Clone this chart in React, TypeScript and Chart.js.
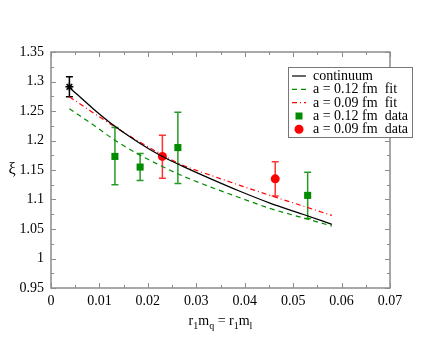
import React, { useEffect, useRef } from "react";
import { Chart, registerables } from "chart.js";

Chart.register(...registerables);

// Curves
const contX = [0.0038, 0.0087, 0.0132, 0.018, 0.0225, 0.027, 0.033, 0.039, 0.0452, 0.052, 0.058];
const contY = [1.29, 1.254, 1.224, 1.197, 1.175, 1.157, 1.135, 1.114, 1.094, 1.075, 1.058];
const fit12X = [0.0038, 0.0087, 0.0132, 0.0184, 0.0225, 0.0266, 0.033, 0.039, 0.0452, 0.052, 0.058];
const fit12Y = [1.254, 1.2265, 1.2005, 1.175, 1.158, 1.142, 1.121, 1.103, 1.085, 1.069, 1.055];
const fit09X = [0.0038, 0.0087, 0.0132, 0.018, 0.0225, 0.027, 0.033, 0.039, 0.0452, 0.052, 0.058];
const fit09Y = [1.274, 1.247, 1.223, 1.199, 1.178, 1.159, 1.141, 1.124, 1.107, 1.089, 1.073];

// Data points
const contPtX = [0.0038];
const contPtY = [1.291];
const contPtLo = [1.274];
const contPtHi = [1.308];
const d12X = [0.0132, 0.0184, 0.0262, 0.053];
const d12Y = [1.173, 1.155, 1.188, 1.107];
const d12Lo = [1.125, 1.132, 1.127, 1.068];
const d12Hi = [1.222, 1.178, 1.248, 1.146];
const d09X = [0.023, 0.0463];
const d09Y = [1.173, 1.135];
const d09Lo = [1.136, 1.106];
const d09Hi = [1.209, 1.164];

const legendLabels = [
  "continuum",
  "a = 0.12 fm  fit",
  "a = 0.09 fm  fit",
  "a = 0.12 fm  data",
  "a = 0.09 fm  data",
];

const GREEN = "#008b00";
const RED = "#ff0000";
const FRAME = "#8c8c8c";
const SERIF = "'Liberation Serif', 'DejaVu Serif', serif";

const pts = (xs: number[], ys: number[]) => xs.map((x, i) => ({ x, y: ys[i] }));

export default function App() {
  const ref = useRef<HTMLCanvasElement>(null);
  useEffect(() => {
    document.body.style.margin = "0";
    const canvas = ref.current!;
    const errorSets = [
      { xs: contPtX, lo: contPtLo, hi: contPtHi, color: "#000000" },
      { xs: d12X, lo: d12Lo, hi: d12Hi, color: "rgba(0,139,0,0.85)" },
      { xs: d09X, lo: d09Lo, hi: d09Hi, color: "rgba(255,0,0,0.8)" },
    ];
    const decor = {
      id: "decor",
      beforeDatasetsDraw(chart: any) {
        const ctx = chart.ctx;
        const xs = chart.scales.x;
        const ys = chart.scales.y;
        ctx.save();
        ctx.lineWidth = 1.5;
        for (const s of errorSets) {
          ctx.strokeStyle = s.color;
          s.xs.forEach((x, i) => {
            const px = xs.getPixelForValue(x);
            const p1 = ys.getPixelForValue(s.lo[i]);
            const p2 = ys.getPixelForValue(s.hi[i]);
            ctx.beginPath();
            ctx.moveTo(px, p1);
            ctx.lineTo(px, p2);
            ctx.moveTo(px - 3.5, p1);
            ctx.lineTo(px + 3.5, p1);
            ctx.moveTo(px - 3.5, p2);
            ctx.lineTo(px + 3.5, p2);
            ctx.stroke();
          });
        }
        ctx.restore();
      },
      afterDraw(chart: any) {
        const ctx = chart.ctx;
        const a = chart.chartArea;
        const xs = chart.scales.x;
        const ys = chart.scales.y;
        ctx.save();
        // frame
        ctx.strokeStyle = FRAME;
        ctx.lineWidth = 1.5;
        ctx.strokeRect(a.left, a.top, a.right - a.left, a.bottom - a.top);
        ctx.lineWidth = 1;
        ctx.beginPath();
        for (let i = 0; i <= 14; i++) {
          const v = i * 0.005;
          const px = Math.round(xs.getPixelForValue(v)) + 0.5;
          const len = i % 2 === 0 ? 5 : 3;
          ctx.moveTo(px, a.bottom);
          ctx.lineTo(px, a.bottom - len);
          ctx.moveTo(px, a.top);
          ctx.lineTo(px, a.top + len);
        }
        for (let i = 0; i <= 16; i++) {
          const v = 0.95 + i * 0.025;
          const py = Math.round(ys.getPixelForValue(v)) + 0.5;
          const len = i % 2 === 0 ? 5 : 3;
          ctx.moveTo(a.left, py);
          ctx.lineTo(a.left + len, py);
          ctx.moveTo(a.right, py);
          ctx.lineTo(a.right - len, py);
        }
        ctx.stroke();

        // axis titles
        ctx.fillStyle = "#000";
        ctx.textBaseline = "alphabetic";
        ctx.textAlign = "left";
        const parts: [string, boolean][] = [
          ["r", false], ["1", true], ["m", false], ["q", true],
          [" = r", false], ["1", true], ["m", false], ["l", true],
        ];
        const big = `14px ${SERIF}`;
        const small = `10px ${SERIF}`;
        let total = 0;
        for (const [t, sub] of parts) {
          ctx.font = sub ? small : big;
          total += ctx.measureText(t).width;
        }
        let cx = (a.left + a.right) / 2 - total / 2;
        const base = 325;
        for (const [t, sub] of parts) {
          ctx.font = sub ? small : big;
          ctx.fillText(t, cx, sub ? base + 4 : base);
          cx += ctx.measureText(t).width;
        }
        ctx.font = `16px ${SERIF}`;
        ctx.textAlign = "center";
        ctx.textBaseline = "middle";
        ctx.fillText("ξ", 12, ys.getPixelForValue(1.15));

        // legend
        const lx = 288.5, ly = 67.5, lw = 124, lh = 70;
        ctx.fillStyle = "#fff";
        ctx.fillRect(lx, ly, lw, lh);
        ctx.strokeStyle = "#777";
        ctx.lineWidth = 1;
        ctx.strokeRect(lx, ly, lw, lh);
        const rowY = [76, 89.3, 102.7, 116, 129.3];
        ctx.font = `14px ${SERIF}`;
        ctx.textAlign = "left";
        ctx.textBaseline = "middle";
        legendLabels.forEach((lab, i) => {
          const y = rowY[i];
          ctx.save();
          if (i < 3) {
            ctx.lineWidth = 1.2;
            ctx.strokeStyle = i === 0 ? "#000" : i === 1 ? GREEN : RED;
            ctx.setLineDash(i === 0 ? [] : i === 1 ? [5, 4] : [5, 3, 1, 3]);
            ctx.beginPath();
            ctx.moveTo(292, y);
            ctx.lineTo(306, y);
            ctx.stroke();
          } else if (i === 3) {
            ctx.fillStyle = GREEN;
            ctx.fillRect(295.5, y - 3.5, 7, 7);
          } else {
            ctx.fillStyle = RED;
            ctx.beginPath();
            ctx.arc(299, y, 4.5, 0, Math.PI * 2);
            ctx.fill();
          }
          ctx.restore();
          ctx.fillStyle = "#000";
          ctx.fillText(lab, 313, y + 0.5);
        });
        ctx.restore();
      },
    };

    const fmt = (v: any) => String(Number(Number(v).toFixed(3)));

    const chart = new Chart(canvas, {
      type: "scatter",
      data: {
        datasets: [
          {
            label: "continuum",
            data: pts(contX, contY),
            showLine: true,
            borderColor: "#000",
            borderWidth: 1.3,
            pointRadius: 0,
            cubicInterpolationMode: "monotone",
          } as any,
          {
            label: "a = 0.12 fm fit",
            data: pts(fit12X, fit12Y),
            showLine: true,
            borderColor: GREEN,
            borderWidth: 1.2,
            borderDash: [5, 4],
            pointRadius: 0,
            cubicInterpolationMode: "monotone",
          } as any,
          {
            label: "a = 0.09 fm fit",
            data: pts(fit09X, fit09Y),
            showLine: true,
            borderColor: RED,
            borderWidth: 1.2,
            borderDash: [5, 3, 1, 3],
            pointRadius: 0,
            cubicInterpolationMode: "monotone",
          } as any,
          {
            label: "continuum point",
            data: pts(contPtX, contPtY),
            pointStyle: "star",
            pointRadius: 4,
            borderColor: "#000",
            borderWidth: 1.5,
            backgroundColor: "#000",
          },
          {
            label: "a = 0.12 fm data",
            data: pts(d12X, d12Y),
            pointStyle: "rect",
            pointRadius: 5,
            borderWidth: 0,
            backgroundColor: GREEN,
          },
          {
            label: "a = 0.09 fm data",
            data: pts(d09X, d09Y),
            pointStyle: "circle",
            pointRadius: 4.5,
            borderWidth: 0,
            backgroundColor: RED,
          },
        ],
      },
      options: {
        animation: false,
        responsive: false,
        devicePixelRatio: 1,
        layout: { padding: { left: 0, top: 52, right: 50, bottom: 0 } },
        plugins: { legend: { display: false }, tooltip: { enabled: false } },
        scales: {
          x: {
            type: "linear",
            min: 0,
            max: 0.07,
            grid: { display: false, drawTicks: false },
            border: { display: false },
            ticks: {
              stepSize: 0.01,
              padding: 5,
              color: "#000",
              font: { family: SERIF, size: 14 },
              callback: fmt,
              maxRotation: 0,
              autoSkip: false,
            },
            afterFit: (s: any) => { s.height = 52; },
          },
          y: {
            type: "linear",
            min: 0.95,
            max: 1.35,
            grid: { display: false, drawTicks: false },
            border: { display: false },
            ticks: {
              stepSize: 0.05,
              padding: 7,
              color: "#000",
              font: { family: SERIF, size: 14 },
              callback: fmt,
              autoSkip: false,
            },
            afterFit: (s: any) => { s.width = 51; },
          },
        },
      },
      plugins: [decor],
    } as any);
    return () => chart.destroy();
  }, []);
  return <canvas ref={ref} width={440} height={340} style={{ display: "block", width: 440, height: 340 }} />;
}
